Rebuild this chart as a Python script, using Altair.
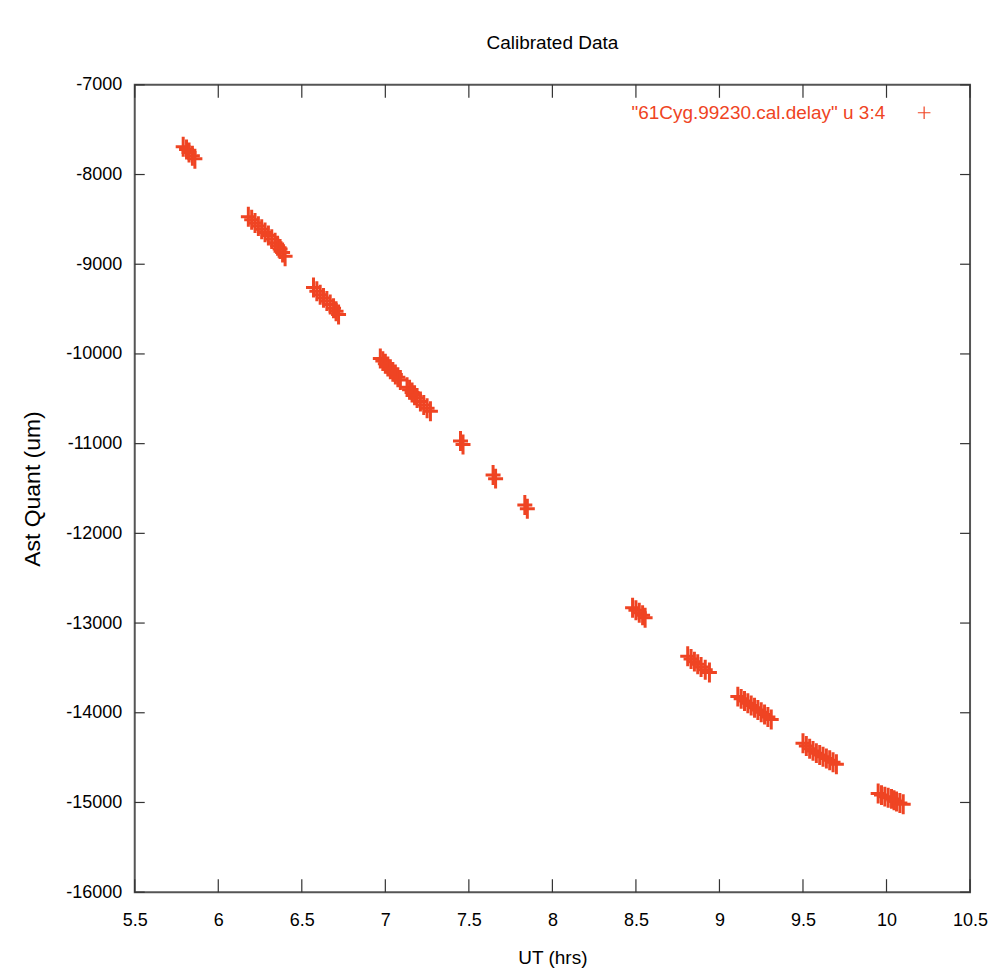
import altair as alt
import pandas as pd

# UT (hrs) and Ast Quant (um)
ut = [5.79, 5.81, 5.825, 5.845, 5.86,
      6.18, 6.20, 6.22, 6.24, 6.26, 6.28, 6.30, 6.32, 6.34, 6.355, 6.37, 6.385, 6.40,
      6.57, 6.59, 6.61, 6.63, 6.65, 6.67, 6.69, 6.705, 6.72,
      6.97, 6.985, 7.00, 7.015, 7.03, 7.045, 7.06, 7.075, 7.09,
      7.13, 7.145, 7.16, 7.175, 7.19, 7.21, 7.23, 7.25, 7.27,
      7.450, 7.465, 7.645, 7.660, 7.835, 7.850,
      8.48, 8.50, 8.52, 8.54, 8.555,
      8.81, 8.83, 8.85, 8.87, 8.89, 8.915, 8.94,
      9.11, 9.13, 9.15, 9.17, 9.19, 9.21, 9.23, 9.25, 9.27, 9.29, 9.31,
      9.50, 9.52, 9.54, 9.56, 9.58, 9.60, 9.62, 9.64, 9.66, 9.68, 9.70,
      9.95, 9.97, 9.99, 10.01, 10.03, 10.045, 10.06, 10.08, 10.10]
quant = [-7690, -7720, -7755, -7790, -7825,
         -8470, -8505, -8540, -8575, -8610, -8645, -8680, -8720, -8760, -8795, -8830, -8870, -8910,
         -9260, -9300, -9340, -9375, -9410, -9450, -9490, -9525, -9560,
         -10050, -10080, -10110, -10140, -10170, -10200, -10230, -10260, -10290,
         -10370, -10400, -10430, -10460, -10490, -10530, -10570, -10605, -10640,
         -10970, -11010, -11350, -11390, -11685, -11725,
         -12830, -12858, -12885, -12912, -12940,
         -13370, -13400, -13430, -13460, -13490, -13520, -13550,
         -13820, -13845, -13870, -13895, -13920, -13945, -13970, -13995, -14020, -14048, -14075,
         -14340, -14370, -14400, -14425, -14450, -14470, -14490, -14510, -14530, -14552, -14575,
         -14900, -14918, -14935, -14948, -14960, -14975, -14990, -15005, -15020]

x_ticks = [5.5, 6.0, 6.5, 7.0, 7.5, 8.0, 8.5, 9.0, 9.5, 10.0, 10.5]
y_ticks = [-16000, -15000, -14000, -13000, -12000, -11000, -10000, -9000, -8000, -7000]
legend_label = ['"61Cyg.99230.cal.delay" u 3:4']

RED = "#ef4423"
FONT = "Liberation Sans"
PLUS = "M-0.75,0L0.75,0M0,-1L0,1"
W, H = 837, 809

df = pd.DataFrame({"ut": ut, "q": quant})
xt = pd.DataFrame({"ut": x_ticks})
yt = pd.DataFrame({"q": y_ticks})
lg = pd.DataFrame({"label": legend_label})

xscale = alt.Scale(domain=[5.5, 10.5], nice=False, zero=False)
yscale = alt.Scale(domain=[-16000, -7000], nice=False, zero=False)

xaxis = alt.Axis(
    title="UT (hrs)", values=x_ticks, labelExpr="'' + datum.value", grid=False, domain=False,
    ticks=False, tickSize=0, labelFont=FONT, labelFontSize=18, labelColor="black",
    labelPadding=28, labelBaseline="middle", labelFlush=False,
    titleFont=FONT, titleFontSize=19, titleFontWeight="normal", titleColor="black",
    titleX=W / 2, titleY=65, titleBaseline="middle", titleAlign="center")
yaxis = alt.Axis(
    title="Ast Quant (um)", values=y_ticks, labelExpr="'' + datum.value", grid=False, domain=False,
    ticks=False, tickSize=0, labelFont=FONT, labelFontSize=18, labelColor="black",
    labelPadding=13, labelFlush=False,
    titleFont=FONT, titleFontSize=23, titleFontWeight="normal", titleColor="black",
    titleX=-102, titleY=H / 2, titleAngle=270, titleBaseline="middle", titleAlign="center")

X = alt.X("ut:Q", scale=xscale, axis=xaxis)
Y = alt.Y("q:Q", scale=yscale, axis=yaxis)

points = alt.Chart(df).mark_point(
    shape=PLUS, filled=False, strokeWidth=3, size=400, color=RED, opacity=1
).encode(x=X, y=Y)

tick_style = dict(color="#333333", strokeWidth=1.2)
xb = alt.Chart(xt).mark_rule(**tick_style).encode(x=X, y=alt.value(H), y2=alt.value(H - 13))
xtop = alt.Chart(xt).mark_rule(**tick_style).encode(x=X, y=alt.value(0), y2=alt.value(13))
yl = alt.Chart(yt).mark_rule(**tick_style).encode(y=Y, x=alt.value(0), x2=alt.value(10))
yr = alt.Chart(yt).mark_rule(**tick_style).encode(y=Y, x=alt.value(W), x2=alt.value(W - 10))

leg_text = alt.Chart(lg).mark_text(
    align="right", baseline="middle", font=FONT, fontSize=19, color=RED
).encode(text="label:N", x=alt.value(752), y=alt.value(28))
leg_sym = alt.Chart(lg).mark_point(
    shape="M-1,0L1,0M0,-1L0,1", filled=False, strokeWidth=1.2, size=160, color=RED, opacity=1
).encode(x=alt.value(791), y=alt.value(28))

chart = alt.layer(points, xb, xtop, yl, yr, leg_text, leg_sym).properties(
    width=W, height=H,
    background="white",
    title=alt.TitleParams("Calibrated Data", font=FONT, fontSize=19, fontWeight="normal",
                          color="black", anchor="middle", offset=8, baseline="alphabetic"),
    autosize=alt.AutoSizeParams(type="none"),
    padding={"left": 127, "top": 76, "right": 20, "bottom": 75},
).configure_view(stroke="#555555", strokeWidth=2)

chart.save("out.html", embed_options={"renderer": "svg", "actions": False})
